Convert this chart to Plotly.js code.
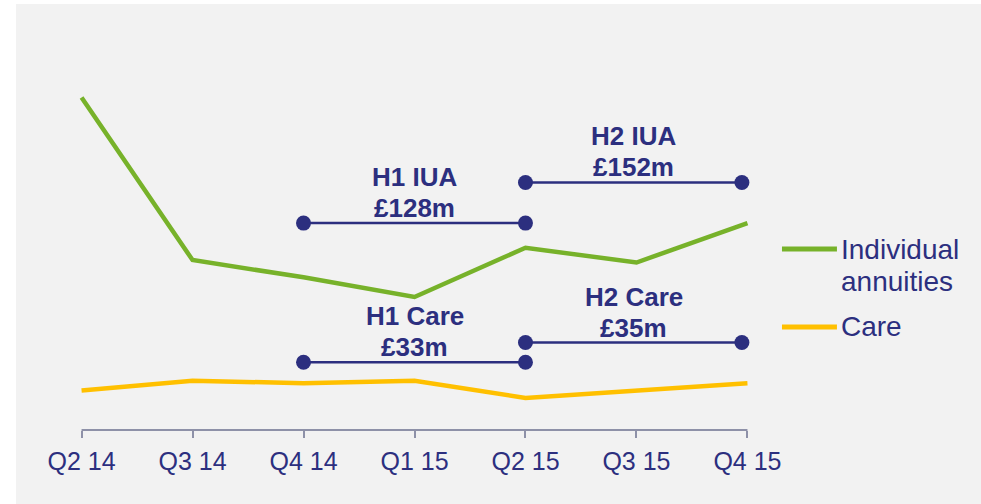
<!DOCTYPE html>
<html>
<head>
<meta charset="utf-8">
<script src="https://cdn.plot.ly/plotly-3.0.1.min.js"></script>
<style>
  html, body { margin: 0; padding: 0; background: #ffffff; }
  #chart { position: absolute; left: 16px; top: 4px; width: 965px; height: 500px; }
</style>
</head>
<body>
<div id="chart"></div>
<script>
// ---- data ----
const quarters = ["Q2 14", "Q3 14", "Q4 14", "Q1 15", "Q2 15", "Q3 15", "Q4 15"];
const seriesNames = ["Individual annuities", "Care"];
const individualAnnuities = [135, 69, 62, 54, 74, 68, 84];   // £m per quarter (estimated)
const care = [16, 20, 19, 20, 13, 16, 19];                     // £m per quarter (estimated)

// half-year brackets
const bracketTitles = ["H1 IUA", "H2 IUA", "H1 Care", "H2 Care"];
const bracketValues = ["£128m", "£152m", "£33m", "£35m"];
const bracketStart = [2, 4, 2, 4];
const bracketEnd = [4, 5.95, 4, 5.95];
const bracketLevel = [84, 100.5, 27.5, 35.5];

const legendLines = [["Individual", "annuities"], ["Care"]];

// ---- styles ----
const GREEN = "#77b22a";
const YELLOW = "#ffc000";
const NAVY = "#2c2f7f";
const AXIS = "#8e91a8";
const FONT = "Arial, 'Liberation Sans', sans-serif";

const xIdx = quarters.map((_, i) => i);

const traces = [
  { x: xIdx, y: individualAnnuities, name: seriesNames[0], type: "scatter", mode: "lines",
    line: { color: GREEN, width: 4.5 }, hoverinfo: "skip" },
  { x: xIdx, y: care, name: seriesNames[1], type: "scatter", mode: "lines",
    line: { color: YELLOW, width: 4.5 }, hoverinfo: "skip" }
];

const annotations = [];
for (let i = 0; i < bracketTitles.length; i++) {
  traces.push({
    x: [bracketStart[i], bracketEnd[i]], y: [bracketLevel[i], bracketLevel[i]],
    type: "scatter", mode: "lines+markers",
    line: { color: NAVY, width: 2.5 },
    marker: { color: NAVY, size: 15 },
    cliponaxis: false, hoverinfo: "skip", showlegend: false
  });
  const mid = (bracketStart[i] + bracketEnd[i]) / 2;
  annotations.push({ x: mid, y: bracketLevel[i], xref: "x", yref: "y", text: bracketTitles[i],
    showarrow: false, yanchor: "middle", yshift: 46,
    font: { family: FONT, size: 26, color: NAVY, weight: "bold" } });
  annotations.push({ x: mid, y: bracketLevel[i], xref: "x", yref: "y", text: bracketValues[i],
    showarrow: false, yanchor: "middle", yshift: 15,
    font: { family: FONT, size: 26, color: NAVY, weight: "bold" } });
}

// custom legend
const legendColors = [GREEN, YELLOW];
const legendY = [0.435, 0.2476];
const shapes = [
  // x-axis baseline spanning first to last category
  { type: "line", xref: "x", yref: "paper", x0: xIdx[0], x1: xIdx[xIdx.length - 1], y0: 0, y1: 0,
    line: { color: AXIS, width: 2 }, layer: "below" }
];
for (let s = 0; s < seriesNames.length; s++) {
  shapes.push({ type: "line", xref: "paper", yref: "paper",
    x0: 1.0428, x1: 1.124, y0: legendY[s], y1: legendY[s],
    line: { color: legendColors[s], width: 5 } });
  legendLines[s].forEach((t, k) => {
    annotations.push({ x: 1.127, y: legendY[s], xref: "paper", yref: "paper", text: t,
      showarrow: false, xanchor: "left", yanchor: "middle", yshift: -32 * k,
      font: { family: FONT, size: 28, color: NAVY } });
  });
}

const layout = {
  width: 965, height: 500,
  paper_bgcolor: "#f2f2f2", plot_bgcolor: "#f2f2f2",
  margin: { l: 60, r: 228, t: 10, b: 74 },
  showlegend: false,
  font: { family: FONT, color: NAVY },
  xaxis: {
    range: [-0.05, 6.05], tickmode: "array", tickvals: xIdx, ticktext: quarters,
    showgrid: false, zeroline: false, showline: false,
    ticks: "outside", ticklen: 7, tickwidth: 2, tickcolor: AXIS, ticklabelstandoff: 2,
    tickfont: { family: FONT, size: 25, color: NAVY }, fixedrange: true
  },
  yaxis: {
    range: [0, 168.9], visible: false, showgrid: false, zeroline: false, fixedrange: true
  },
  shapes: shapes,
  annotations: annotations
};

Plotly.newPlot("chart", traces, layout, { displayModeBar: false, staticPlot: true });
</script>
</body>
</html>
